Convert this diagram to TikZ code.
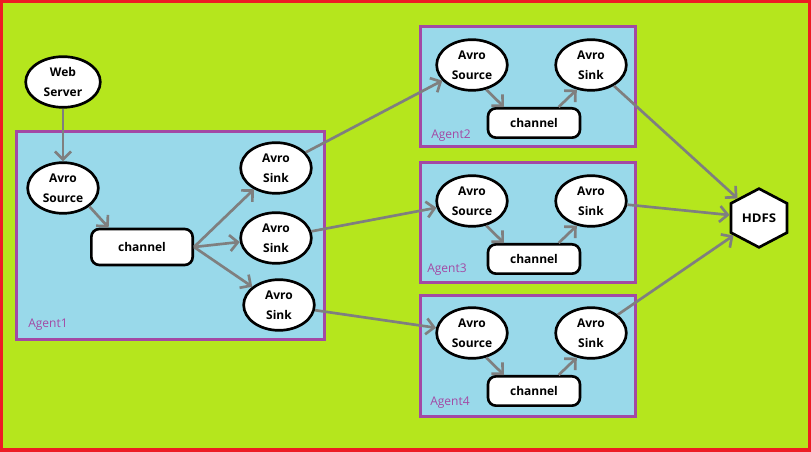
\documentclass[tikz,border=0pt]{standalone}
\usepackage{fontspec}
\setsansfont{Open Sans}
\usetikzlibrary{shapes.geometric,arrows.meta}
\definecolor{paintgreen}{RGB}{181,230,29}
\definecolor{paintred}{RGB}{237,28,36}
\definecolor{paintblue}{RGB}{153,217,234}
\definecolor{paintpurple}{RGB}{163,73,164}
\definecolor{paintgray}{RGB}{127,127,127}

\begin{document}
\begin{tikzpicture}[x=0.75pt,y=0.75pt,yscale=-1,xscale=1,
    avro/.style={ellipse,draw=black,line width=2pt,fill=white,minimum width=53pt,minimum height=38pt,inner sep=0pt,align=center,font=\sffamily\bfseries\fontsize{9}{15}\selectfont},
    chan/.style={rectangle,rounded corners=6pt,draw=black,line width=2pt,fill=white,minimum width=69pt,minimum height=22pt,inner sep=0pt,font=\sffamily\bfseries\fontsize{9}{11}\selectfont},
    agent/.style={draw=paintpurple,line width=2.25pt,fill=paintblue},
    agentname/.style={anchor=west,inner sep=0pt,text=paintpurple,font=\sffamily\fontsize{9}{11}\selectfont},
    flow/.style={draw=paintgray,line width=2pt,-{Straight Barb[length=6pt,width=12pt,line width=2pt]}}
  ]
  \useasboundingbox (0,0) rectangle (811,452);
  %Background
  \draw [paintred,line width=2.25pt,fill=paintgreen] (1.5,1.5) rectangle (809,450);

  %Agent boxes
  \draw [agent] (16,132) rectangle (324,340);
  \draw [agent] (420,27) rectangle (635,147);
  \draw [agent] (420,163) rectangle (635,283);
  \draw [agent] (420,296) rectangle (635,417);

  % Text Node
  \node [agentname] (agent1) at (28,325) {Agent1};
  \node [agentname] (agent2) at (431,136) {Agent2};
  \node [agentname] (agent3) at (427,270) {Agent3};
  \node [agentname] (agent4) at (430,403) {Agent4};

  % Agent1
  \node [avro,minimum width=56pt] (web) at (63,82) {Web\\Server};
  \node [avro] (src1) at (63,188) {Avro\\Source};
  \node [chan,minimum width=76pt,minimum height=27pt] (ch1) at (142,247) {channel};
  \node [avro] (sinka) at (276,168) {Avro\\Sink};
  \node [avro] (sinkb) at (276,238) {Avro\\Sink};
  \node [avro] (sinkc) at (279,305) {Avro\\Sink};

  % Agent2
  \node [avro] (src2) at (472,65) {Avro\\Source};
  \node [chan] (ch2) at (534,123) {channel};
  \node [avro] (sink2) at (591,65) {Avro\\Sink};
  % Agent3
  \node [avro] (src3) at (472,201) {Avro\\Source};
  \node [chan] (ch3) at (534,259) {channel};
  \node [avro] (sink3) at (591,201) {Avro\\Sink};
  % Agent4
  \node [avro] (src4) at (472,333) {Avro\\Source};
  \node [chan] (ch4) at (534,391) {channel};
  \node [avro] (sink4) at (591,333) {Avro\\Sink};

  % HDFS
  \node [regular polygon,regular polygon sides=6,shape border rotate=30,xscale=1.1,draw=black,line width=2pt,fill=white,minimum size=44pt,inner sep=0pt,font=\sffamily\bfseries\fontsize{9}{11}\selectfont] (hdfs) at (759,218) {HDFS};

  %Straight Lines
  \draw [flow] (web) -- (src1);
  \draw [flow] (src1.-35) -- ([xshift=14pt]ch1.north west);
  \draw [flow] (ch1.east) -- (sinka);
  \draw [flow] (ch1.east) -- (sinkb);
  \draw [flow] (ch1.east) -- (sinkc);
  \draw [flow] (sinka) -- (src2);
  \draw [flow] (sinkb) -- (src3);
  \draw [flow] (sinkc) -- (src4);
  \foreach \n in {2,3,4}{
    \draw [flow] (src\n.-60) -- ([xshift=13pt]ch\n.north west);
    \draw [flow] ([xshift=-17pt]ch\n.north east) -- (sink\n.-120);
    \draw [flow] (sink\n) -- (hdfs);
  }
\end{tikzpicture}
\end{document}
